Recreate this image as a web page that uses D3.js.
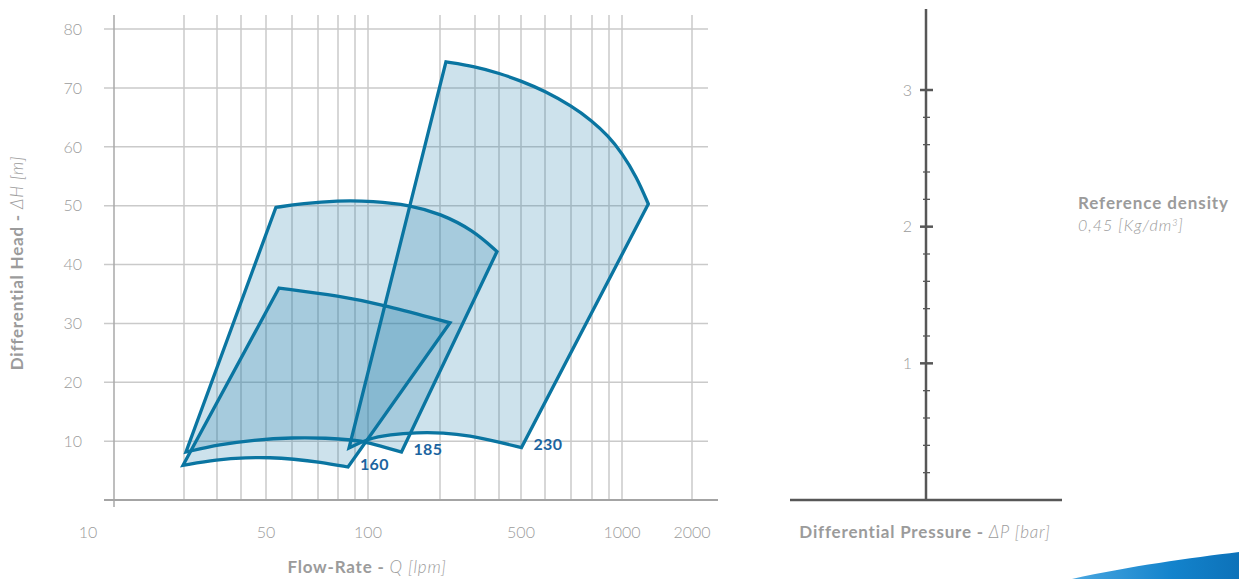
<!DOCTYPE html>
<html>
<head>
<meta charset="utf-8">
<script src="https://cdn.jsdelivr.net/npm/d3@7"></script>
<style>
  body { margin: 0; background: #fff; }
  text { font-family: Lato, "Open Sans", sans-serif; }
</style>
</head>
<body>
<svg id="chart" width="1239" height="579"></svg>
<script>
// flow-rate axis (lpm) - the grid in the original is hand spaced, not a true log
const flowBreaks = [10, 20, 30, 40, 50, 60, 70, 80, 90, 100, 200, 300, 400, 500, 600, 700, 800, 900, 1000, 2000];
const flowLabels = [10, 50, 100, 500, 1000, 2000];
const headTicks = [10, 20, 30, 40, 50, 60, 70, 80];
const pressureTicks = [1, 2, 3];
const pressureMinor = [0.2, 0.4, 0.6, 0.8, 1.2, 1.4, 1.6, 1.8, 2.2, 2.4, 2.6, 2.8];

const pumpNames = ["160", "185", "230"];
// [flow lpm, head m], top edge left->right
const top160 = [[55, 36.0], [81.2, 34.65], [123.6, 33.1], [228.6, 30.1]];
const bottom160 = [[19.9, 5.9], [30, 6.88], [42.4, 7.22], [51.5, 7.22], [60.4, 6.96], [71, 6.45], [85.9, 5.6]];
const top185 = [[53.8, 49.7], [64.2, 50.36], [79.5, 50.87], [106.9, 50.79], [158.3, 50.1], [200, 48.66], [294.3, 45.86], [391.7, 42.2]];
const bottom185 = [[20.6, 8.15], [31.25, 9.43], [44.8, 10.19], [60.4, 10.62], [74.5, 10.53], [88.8, 10.19], [99.2, 9.85], [146.5, 8.15]];
const top230 = [[217, 74.4], [300, 73.63], [404.5, 72.44], [495.5, 71.25], [600, 69.47], [703, 66.92], [798.6, 64.46], [896, 61.83], [997, 59.02], [1210, 54.86], [1376, 50.28]];
const bottom230 = [[86.5, 8.83], [99.2, 10.36], [130.6, 11.12], [168, 11.46], [208.6, 11.43], [285.7, 10.92], [391.7, 9.9], [502, 8.92]];

const pumps = [
  { name: pumpNames[0], top: top160, bottom: bottom160 },
  { name: pumpNames[1], top: top185, bottom: bottom185 },
  { name: pumpNames[2], top: top230, bottom: bottom230 },
];

const svg = d3.select('#chart');
const grey = '#9b9b9b';
const blue = '#0a75a1';

const x = d3.scaleLinear()
  .domain(flowBreaks)
  .range([88, 184, 217, 241, 266, 292, 318, 338, 355, 368, 440, 475, 499, 521, 545, 571, 592, 609, 622, 692]);
const y = d3.scaleLinear().domain([0, 80]).range([500, 29]);

const axisX = 114, plotTop = 15, gridLeft = 104, gridRight = 708;

// grid
svg.append('g').selectAll('line').data(headTicks).join('line')
  .attr('x1', gridLeft).attr('x2', gridRight)
  .attr('y1', d => y(d)).attr('y2', d => y(d))
  .attr('stroke', '#cacaca').attr('stroke-width', 1.5);
svg.append('g').selectAll('line').data(flowBreaks.slice(1)).join('line')
  .attr('x1', d => x(d)).attr('x2', d => x(d))
  .attr('y1', plotTop).attr('y2', y(0))
  .attr('stroke', '#cacaca').attr('stroke-width', 1.5);

// axes
svg.append('line').attr('x1', axisX).attr('x2', axisX).attr('y1', plotTop).attr('y2', y(0) + 7)
  .attr('stroke', '#a9a9a9').attr('stroke-width', 1.5);
svg.append('line').attr('x1', gridLeft).attr('x2', gridRight + 10).attr('y1', y(0)).attr('y2', y(0))
  .attr('stroke', '#a4a4a4').attr('stroke-width', 2);

svg.append('g').selectAll('text').data(headTicks).join('text')
  .attr('x', 82).attr('y', d => y(d)).attr('dy', '0.36em')
  .attr('text-anchor', 'end').attr('fill', grey)
  .style('font-size', '16px').style('font-weight', 300)
  .text(d => d);
svg.append('g').selectAll('text').data(flowLabels).join('text')
  .attr('x', d => x(d)).attr('y', 532).attr('dy', '0.36em')
  .attr('text-anchor', 'middle').attr('fill', grey)
  .style('font-size', '16px').style('font-weight', 300)
  .text(d => d);

// pump envelopes
const edge = d3.line().x(d => x(d[0])).y(d => y(d[1])).curve(d3.curveBasis);
function outline(p) {
  const t = edge(p.top);
  const b = edge(p.bottom.slice().reverse());
  return t + 'L' + b.slice(1) + 'Z';
}

svg.append('g').selectAll('path').data(pumps).join('path')
  .attr('d', outline)
  .attr('fill', 'rgba(28,123,169,0.22)');
svg.append('g').selectAll('path').data(pumps).join('path')
  .attr('d', outline)
  .attr('fill', 'none').attr('stroke', blue).attr('stroke-width', 3.3)
  .attr('stroke-linejoin', 'miter');

svg.append('g').selectAll('text').data(pumps).join('text')
  .attr('x', d => x(d.bottom[d.bottom.length - 1][0]) + 12)
  .attr('y', d => y(d.bottom[d.bottom.length - 1][1]) + 3)
  .attr('fill', '#1c64a0')
  .style('font-size', '16px').style('font-weight', 700).style('letter-spacing', '0.3px')
  .text(d => d.name);

// axis titles
const xt = svg.append('text').attr('x', 367).attr('y', 573).attr('text-anchor', 'middle')
  .attr('fill', grey).style('font-size', '17px').style('letter-spacing', '0.8px');
xt.append('tspan').style('font-weight', 700).text('Flow-Rate - ');
xt.append('tspan').style('font-style', 'italic').style('font-weight', 300).text('Q [lpm]');

const yt = svg.append('text').attr('transform', 'translate(23,263) rotate(-90)').attr('text-anchor', 'middle')
  .attr('fill', grey).style('font-size', '17px').style('letter-spacing', '0.8px');
yt.append('tspan').style('font-weight', 700).text('Differential Head  - ');
yt.append('tspan').style('font-style', 'italic').style('font-weight', 300).text('ΔH [m]');

// pressure panel
const p = d3.scaleLinear().domain([0, 3]).range([500, 90]);
const pX = 926;
const dark = '#575757';
svg.append('line').attr('x1', pX).attr('x2', pX).attr('y1', 9).attr('y2', p(0))
  .attr('stroke', dark).attr('stroke-width', 2.5);
svg.append('line').attr('x1', 790).attr('x2', 1062).attr('y1', p(0)).attr('y2', p(0))
  .attr('stroke', dark).attr('stroke-width', 2.5);
svg.append('g').selectAll('line').data(pressureTicks).join('line')
  .attr('x1', pX - 6).attr('x2', pX + 7).attr('y1', d => p(d)).attr('y2', d => p(d))
  .attr('stroke', dark).attr('stroke-width', 2.5);
svg.append('g').selectAll('line').data(pressureMinor).join('line')
  .attr('x1', pX - 3).attr('x2', pX + 4).attr('y1', d => p(d)).attr('y2', d => p(d))
  .attr('stroke', dark).attr('stroke-width', 1.3);
svg.append('g').selectAll('text').data(pressureTicks).join('text')
  .attr('x', pX - 14).attr('y', d => p(d)).attr('dy', '0.36em')
  .attr('text-anchor', 'end').attr('fill', grey)
  .style('font-size', '16px').style('font-weight', 300)
  .text(d => d);

const pt = svg.append('text').attr('x', 925).attr('y', 538).attr('text-anchor', 'middle')
  .attr('fill', grey).style('font-size', '17px').style('letter-spacing', '0.8px');
pt.append('tspan').style('font-weight', 700).text('Differential Pressure - ');
pt.append('tspan').style('font-style', 'italic').style('font-weight', 300).text('ΔP [bar]');

svg.append('text').attr('x', 1078).attr('y', 209).attr('fill', grey)
  .style('font-size', '17px').style('font-weight', 700).style('letter-spacing', '0.9px')
  .text('Reference density');
const rd = svg.append('text').attr('x', 1078).attr('y', 231).attr('fill', grey)
  .style('font-size', '16px').style('font-style', 'italic').style('font-weight', 300)
  .style('letter-spacing', '1px');
rd.append('tspan').text('0,45 [Kg/dm');
rd.append('tspan').attr('dy', -5).style('font-size', '9px').text('3');
rd.append('tspan').attr('dy', 5).text(']');

// corner swoosh
const grad = svg.append('defs').append('linearGradient').attr('id', 'sw')
  .attr('x1', '0%').attr('x2', '100%');
grad.append('stop').attr('offset', '0%').attr('stop-color', '#4aa7e0');
grad.append('stop').attr('offset', '60%').attr('stop-color', '#1383cc');
grad.append('stop').attr('offset', '100%').attr('stop-color', '#0d72b9');
svg.append('path')
  .attr('d', 'M1072,579 C1130,566 1190,558 1239,552 L1239,579 Z')
  .attr('fill', 'url(#sw)');
</script>
</body>
</html>
